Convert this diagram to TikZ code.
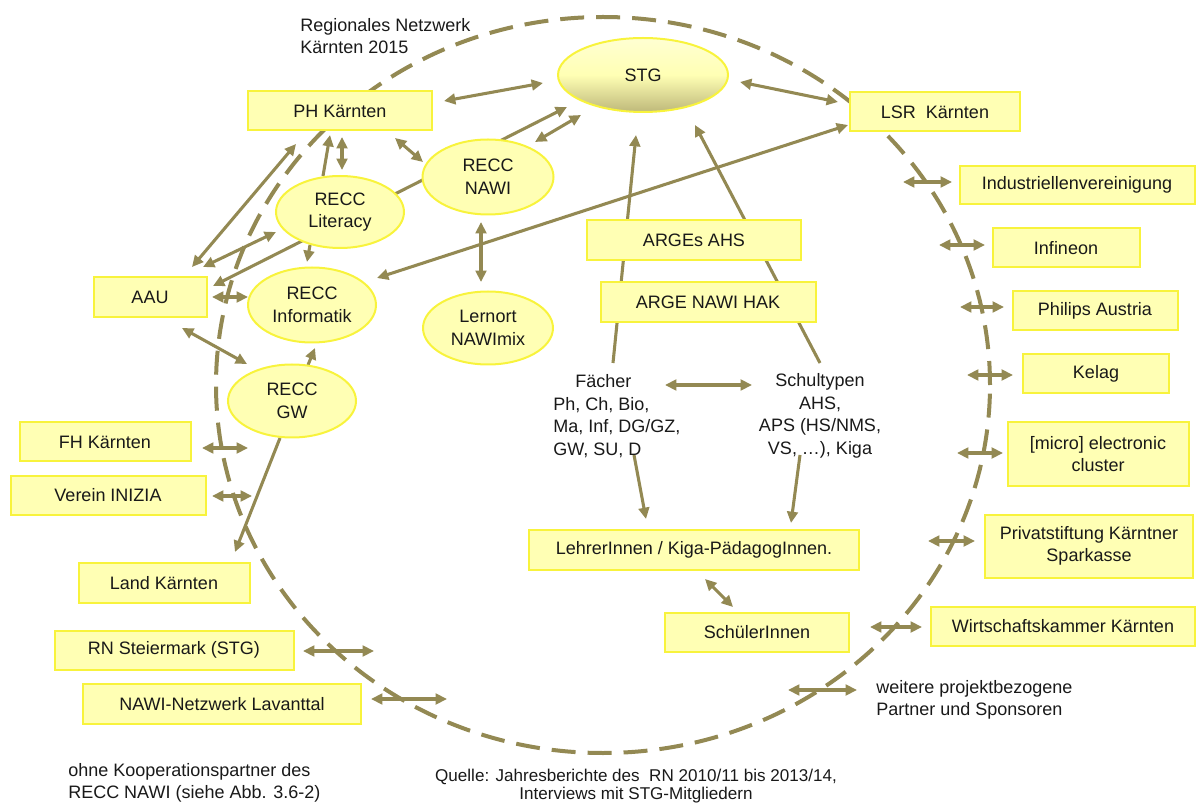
\documentclass[tikz,border=0pt]{standalone}
\usepackage{fontspec}
\setmainfont{Liberation Sans}
\usetikzlibrary{arrows.meta,shapes.geometric}
\definecolor{olivec}{RGB}{147,137,83}
\definecolor{fillc}{RGB}{255,255,180}
\definecolor{edgec}{RGB}{248,243,60}
\definecolor{txtc}{RGB}{25,25,25}
\pgfdeclarelayer{bg}
\pgfsetlayers{bg,main}
\begin{document}
\begin{tikzpicture}[x=0.75pt,y=-0.75pt,
  font=\fontsize{13.5}{17}\selectfont,
  bx/.style={draw=edgec, fill=fillc, line width=1.5pt, inner sep=0pt, align=center, text=txtc},
  el/.style={ellipse, draw=edgec, fill=fillc, line width=1.5pt, inner sep=0pt, align=center, text=txtc},
  sz/.style 2 args={minimum width=#1*0.75pt, minimum height=#2*0.75pt},
  tip/.tip={Triangle[length=8.5pt,width=8pt]},
  con/.style={draw=olivec, line width=2.3pt, -tip},
  dbl/.style={draw=olivec, line width=2.3pt, tip-tip},
  lbl/.style={text=txtc, inner sep=0pt, align=left},
  ring/.style={draw=olivec, line width=3pt, dash pattern=on 18pt off 9pt}]
\useasboundingbox (0,0) rectangle (1196,805);

% nodes
\node[lbl, anchor=west] (title) at (300,36) {Regionales Netzwerk\\Kärnten 2015};
\node[el, sz={170}{74}, draw=edgec, top color=fillc!60!white, bottom color=olivec!60!fillc, middle color=fillc] (stg) at (643,75) {STG};
\node[bx, sz={184}{39}] (ph) at (340,111) {PH Kärnten};
\node[bx, sz={170}{39}] (lsr) at (935,112) {LSR\ \ Kärnten};
\node[el, sz={131}{75}] (nawi) at (488,177) {RECC\\NAWI};
\node[el, sz={128}{72}] (lit) at (340,212) {RECC\\Literacy};
\node[el, sz={128}{75}] (inf) at (312,305) {RECC\\Informatik};
\node[el, sz={128}{73}] (gw) at (292,401) {RECC\\GW};
\node[el, sz={130}{73}] (lern) at (488,328) {Lernort\\NAWImix};
\node[bx, sz={113}{40}] (aau) at (150,297) {AAU};
\node[bx, sz={171}{39}] (fh) at (105,442) {FH Kärnten};
\node[bx, sz={195}{39}] (ini) at (108,495) {Verein INIZIA};
\node[bx, sz={171}{40}] (land) at (164,583) {Land Kärnten};
\node[bx, sz={239}{39}] (rnst) at (174,650) {RN Steiermark (STG)};
\node[bx, sz={278}{40}] (lav) at (222,704) {NAWI-Netzwerk Lavanttal};
\node[bx, sz={214}{40}] (ahs) at (694,240) {ARGEs AHS};
\node[bx, sz={215}{40}] (hak) at (708,302) {ARGE NAWI HAK};
\node[lbl, anchor=west] (faech) at (553,416) {\hspace*{16.5pt}Fächer\\Ph, Ch, Bio,\\Ma, Inf, DG/GZ,\\GW, SU, D};
\node[lbl, align=center] (schul) at (820,416) {Schultypen\\AHS,\\APS (HS/NMS,\\VS, \dots), Kiga};
\node[bx, sz={330}{40}] (lehr) at (694,550) {LehrerInnen / Kiga-PädagogInnen.};
\node[bx, sz={184}{39}] (schuel) at (757,632) {SchülerInnen};
\node[bx, sz={235}{38}] (indu) at (1077,185) {Industriellenvereinigung};
\node[bx, sz={147}{39}] (infin) at (1066,248) {Infineon};
\node[bx, sz={165}{39}] (phil) at (1095,311) {Philips Austria};
\node[bx, sz={146}{39}] (kel) at (1096,374) {Kelag};
\node[bx, sz={181}{63}] (micro) at (1098,454) {[micro] electronic\\cluster};
\node[bx, sz={208}{63}] (priv) at (1089,546) {Privatstiftung Kärntner\\Sparkasse};
\node[bx, sz={264}{39}] (wko) at (1063,626) {Wirtschaftskammer Kärnten};
\node[lbl, anchor=west] (weit) at (876,700) {weitere projektbezogene\\Partner und Sponsoren};
\node[lbl, anchor=west] (ohne) at (68,783) {ohne Kooperationspartner des\\RECC NAWI (siehe Abb. 3.6-2)};
\node[lbl, align=center, font=\fontsize{12.8}{14}\selectfont] (quelle) at (636,786) {Quelle: Jahresberichte des\ \ RN 2010/11 bis 2013/14,\\Interviews mit STG-Mitgliedern};

\begin{pgfonlayer}{bg}
\draw[ring] (603,385) ellipse [x radius=290.25pt, y radius=276pt];
% top cluster
\draw[dbl] ([shift={(104,-10)}]ph.center) -- ([shift={(-100,8)}]stg.center);
\draw[dbl] ([shift={(97,7)}]stg.center) -- ([shift={(-97,-10)}]lsr.center);
\draw[dbl] ([shift={(63,-11)}]aau.center) -- ([shift={(-76,32)}]stg.center);
\draw[dbl] ([shift={(47,-35)}]nawi.center) -- ([shift={(-62,40)}]stg.center);
\draw[dbl] ([shift={(55,27)}]ph.center) -- ([shift={(-65,-15)}]nawi.center);
\draw[dbl] ([shift={(-87,13)}]lsr.center) -- ([shift={(65,-27)}]inf.center);
\draw[dbl] ([shift={(-7,45)}]nawi.center) -- ([shift={(-7,-46)}]lern.center);
\draw[con] ([shift={(60,-53)}]faech.west) -- ([shift={(-7,60)}]stg.center);
\draw[con] ([shift={(0,-53)}]schul.center) -- ([shift={(52,50)}]stg.center);
% left cluster
\draw[con] ([shift={(-17,-36)}]lit.center) -- ([shift={(-10,24)}]ph.center);
\draw[dbl] ([shift={(2,26)}]ph.center) -- ([shift={(2,-42)}]lit.center);
\draw[con] ([shift={(-30,33)}]lit.center) -- ([shift={(-5,-43)}]inf.center);
\draw[dbl] ([shift={(42,-30)}]aau.center) -- ([shift={(-44,33)}]ph.center);
\draw[dbl] ([shift={(-64,20)}]lit.center) -- ([shift={(53,-30)}]aau.center);
\draw[dbl] ([shift={(62,0)}]aau.center) -- ([shift={(-64,-8)}]inf.center);
\draw[dbl] ([shift={(32,31)}]aau.center) -- ([shift={(-45,-37)}]gw.center);
\draw[con] ([shift={(16,-36)}]gw.center) -- ([shift={(3,43)}]inf.center);
\draw[con] ([shift={(-12,37)}]gw.center) -- ([shift={(71,-31)}]land.center);
\draw[dbl] ([shift={(97,6)}]fh.center) -- ([shift={(143,6)}]fh.center);
\draw[dbl] ([shift={(104,1)}]ini.center) -- ([shift={(144,1)}]ini.center);
\draw[dbl] ([shift={(129,1)}]rnst.center) -- ([shift={(200,1)}]rnst.center);
\draw[dbl] ([shift={(149,-5)}]lav.center) -- ([shift={(225,-5)}]lav.center);
% right side
\draw[dbl] ([shift={(-174,-3)}]indu.center) -- ([shift={(-125,-3)}]indu.center);
\draw[dbl] ([shift={(-127,-3)}]infin.center) -- ([shift={(-81,-3)}]infin.center);
\draw[dbl] ([shift={(-135,-4)}]phil.center) -- ([shift={(-91,-4)}]phil.center);
\draw[dbl] ([shift={(-129,1)}]kel.center) -- ([shift={(-83,1)}]kel.center);
\draw[dbl] ([shift={(-141,-1)}]micro.center) -- ([shift={(-95,-1)}]micro.center);
\draw[dbl] ([shift={(-161,-5)}]priv.center) -- ([shift={(-114,-5)}]priv.center);
\draw[dbl] ([shift={(-193,1)}]wko.center) -- ([shift={(-141,1)}]wko.center);
\draw[dbl] ([shift={(-88,-10)}]weit.west) -- ([shift={(-19,-10)}]weit.west);
% centre
\draw[dbl] ([shift={(112,-31)}]faech.west) -- ([shift={(-68,-31)}]schul.center);
\draw[con] ([shift={(81,39)}]faech.west) -- ([shift={(-48,-31)}]lehr.center);
\draw[con] ([shift={(-20,39)}]schul.center) -- ([shift={(97,-27)}]lehr.center);
\draw[dbl] ([shift={(11,29)}]lehr.center) -- ([shift={(-24,-25)}]schuel.center);
\end{pgfonlayer}
\end{tikzpicture}
\end{document}
